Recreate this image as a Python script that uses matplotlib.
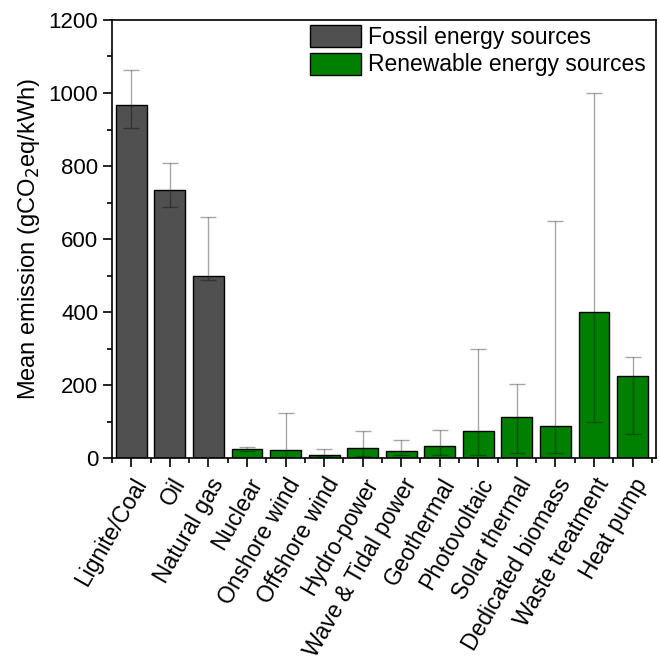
import matplotlib
matplotlib.use("Agg")
import matplotlib.pyplot as plt
from matplotlib.ticker import MultipleLocator
from matplotlib.patches import Patch
import numpy as np

# Data
sources = ["Lignite/Coal", "Oil", "Natural gas", "Nuclear", "Onshore wind",
           "Offshore wind", "Hydro-power", "Wave & Tidal power", "Geothermal",
           "Photovoltaic", "Solar thermal", "Dedicated biomass",
           "Waste treatment", "Heat pump"]
mean_emission = [968, 734, 499, 25, 22, 9, 28, 19, 32, 74, 114, 88, 400, 225]
low_emission = [903, 687, 487, 20, 3, 5, 5, 10, 10, 10, 14, 14, 98, 66]
high_emission = [1062, 809, 660, 30, 125, 25, 75, 50, 78, 300, 203, 650, 1000, 277]
is_fossil = [True, True, True] + [False] * 11

fossil_color = "#505050"
renew_color = "#008000"

plt.rcParams["font.family"] = ["Liberation Sans", "DejaVu Sans"]

fig = plt.figure(figsize=(6.59, 6.65), dpi=100)
ax = fig.add_axes([0.170, 0.311, 0.825, 0.659])

x = np.arange(len(sources))
colors = [fossil_color if f else renew_color for f in is_fossil]
ax.bar(x, mean_emission, width=0.8, color=colors, edgecolor="black",
       linewidth=1.0, zorder=2)

mean = np.array(mean_emission)
yerr = [mean - np.array(low_emission), np.array(high_emission) - mean]
ax.errorbar(x, mean, yerr=yerr, fmt="none", ecolor=(0, 0, 0, 0.35),
            elinewidth=1.0, capsize=6, capthick=1.0, zorder=3)

ax.set_xlim(-0.5, 13.6)
ax.set_ylim(0, 1200)
ax.yaxis.set_major_locator(MultipleLocator(200))
ax.yaxis.set_minor_locator(MultipleLocator(100))
ax.set_xticks(x)
ax.set_xticks(np.arange(-0.5, 14, 1.0), minor=True)
ax.set_xticklabels(sources, rotation=60, ha="right", rotation_mode="anchor",
                   fontsize=16.5)
ax.tick_params(axis="both", which="major", direction="out", length=6.5,
               width=1.2, labelsize=16)
ax.tick_params(axis="both", which="minor", direction="out", length=3.5,
               width=1.2)
ax.tick_params(axis="x", which="major", pad=5, labelsize=16.5)
for s in ax.spines.values():
    s.set_linewidth(1.2)

ax.set_ylabel("Mean emission (gCO$_2$eq/kWh)", fontsize=17, labelpad=5)

handles = [Patch(facecolor=fossil_color, edgecolor="black", linewidth=1.0),
           Patch(facecolor=renew_color, edgecolor="black", linewidth=1.0)]
ax.legend(handles, ["Fossil energy sources", "Renewable energy sources"],
          loc="upper right", bbox_to_anchor=(0.985, 0.993), frameon=False,
          fontsize=16.5, handlelength=2.2, handleheight=1.1,
          handletextpad=0.3, labelspacing=0.15, borderaxespad=0.0,
          borderpad=0.1)

fig.savefig("out.png", dpi=100)
